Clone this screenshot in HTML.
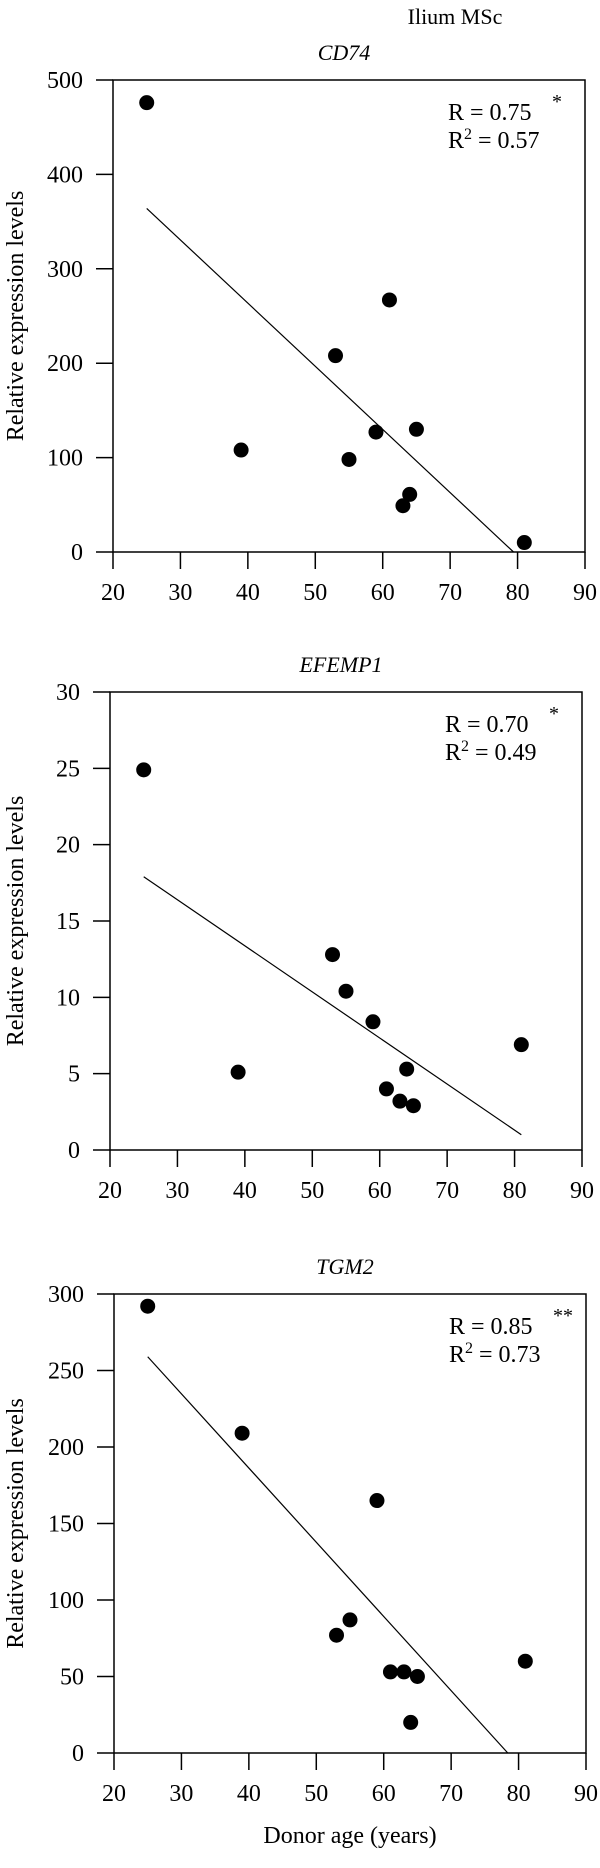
<!DOCTYPE html>
<html><head><meta charset="utf-8"><style>
html,body{margin:0;padding:0;background:#fff;}
svg{display:block;font-family:"Liberation Serif",serif;}
</style></head><body>
<svg id="fig" width="600" height="1868" viewBox="0 0 600 1868">
<text x="455" y="24" text-anchor="middle" font-size="22">Ilium MSc</text>
<text x="350" y="1843" text-anchor="middle" font-size="24">Donor age (years)</text>
</svg>
<script>
const ages = [25,39,53,55,59,61,63,64,65,81];
const cd74Values = [476,108,208,98,127,267,49,61,130,10];
const efemp1Values = [24.9,5.1,12.8,10.4,8.4,4.0,3.2,5.3,2.9,6.9];
const tgm2Values = [292,209,77,87,165,53,53,20,50,60];
const cd74Fit = [[25,364],[79.4,0]];
const efemp1Fit = [[25,17.9],[81,1.0]];
const tgm2Fit = [[25,259],[78.4,0]];
const xTicks = [20,30,40,50,60,70,80,90];
const cd74Ticks = [0,100,200,300,400,500];
const efemp1Ticks = [0,5,10,15,20,25,30];
const tgm2Ticks = [0,50,100,150,200,250,300];
const panels = [
 {id:'cd74',title:'CD74',vals:cd74Values,fit:cd74Fit,ticks:cd74Ticks,ymax:500,L:113,R:585,T:80,B:552,r:'R = 0.75',sig:'*',r2:'0.57'},
 {id:'efemp1',title:'EFEMP1',vals:efemp1Values,fit:efemp1Fit,ticks:efemp1Ticks,ymax:30,L:110,R:582,T:692,B:1150,r:'R = 0.70',sig:'*',r2:'0.49'},
 {id:'tgm2',title:'TGM2',vals:tgm2Values,fit:tgm2Fit,ticks:tgm2Ticks,ymax:300,L:114,R:586,T:1294,B:1753,r:'R = 0.85',sig:'**',r2:'0.73'}
];
const NS='http://www.w3.org/2000/svg';
const svg=document.getElementById('fig');
function mk(tag,attrs,parent,text){const e=document.createElementNS(NS,tag);for(const k in attrs)e.setAttribute(k,attrs[k]);if(text!==undefined)e.textContent=text;parent.appendChild(e);return e;}
panels.forEach(p=>{
 const g=mk('g',{},svg);
 
 
 const xs=v=>p.L+(v-20)/70*(p.R-p.L);
 const ys=v=>p.B-v/p.ymax*(p.B-p.T);
 const frame=mk('rect',{x:p.L,y:p.T,width:p.R-p.L,height:p.B-p.T,fill:'none',stroke:'#000','stroke-width':1.5},g);
 
 
 const t=mk('text',{x:(p.L+p.R)/2-5,y:p.T-20,'text-anchor':'middle','font-size':22,'font-style':'italic'},g,p.title);
 
 
 p.ticks.forEach(v=>{
  const y=ys(v);
  const l=mk('line',{x1:p.L-17,x2:p.L,y1:y,y2:y,stroke:'#000','stroke-width':1.5},g);
  
  
  const tx=mk('text',{x:p.L-30,y:y+8,'text-anchor':'end','font-size':24},g,String(v));
  
  
 });
 xTicks.forEach(v=>{
  const x=xs(v);
  const l=mk('line',{x1:x,x2:x,y1:p.B,y2:p.B+17,stroke:'#000','stroke-width':1.5},g);
  
  
  const tx=mk('text',{x:x,y:p.B+48,'text-anchor':'middle','font-size':24},g,String(v));
  
  
 });
 const cy=(p.T+p.B)/2;
 const yt=mk('text',{x:0,y:0,'text-anchor':'middle','font-size':24,transform:'translate(23,'+cy+') rotate(-90)'},g,'Relative expression levels');
 
 
 const fl=mk('line',{x1:xs(p.fit[0][0]),y1:ys(p.fit[0][1]),x2:xs(p.fit[1][0]),y2:ys(p.fit[1][1]),stroke:'#000','stroke-width':1.2},g);
 
 
 ages.forEach((a,i)=>{
  const c=mk('circle',{cx:xs(a),cy:ys(p.vals[i]),r:7.5,fill:'#000'},g);
  
  
 });
 const ax=p.R-137;
 const a1=mk('text',{x:ax,y:p.T+40,'font-size':24},g,p.r);
 
 
 const s=mk('text',{x:ax+104,y:p.T+28,'font-size':20},g,p.sig);
 
 
 const a2=mk('text',{x:ax,y:p.T+68,'font-size':24},g);
 
 
 mk('tspan',{},a2,'R');
 mk('tspan',{dy:-9,'font-size':16},a2,'2');
 mk('tspan',{dy:9},a2,' = '+p.r2);
});
</script>
</body></html>
